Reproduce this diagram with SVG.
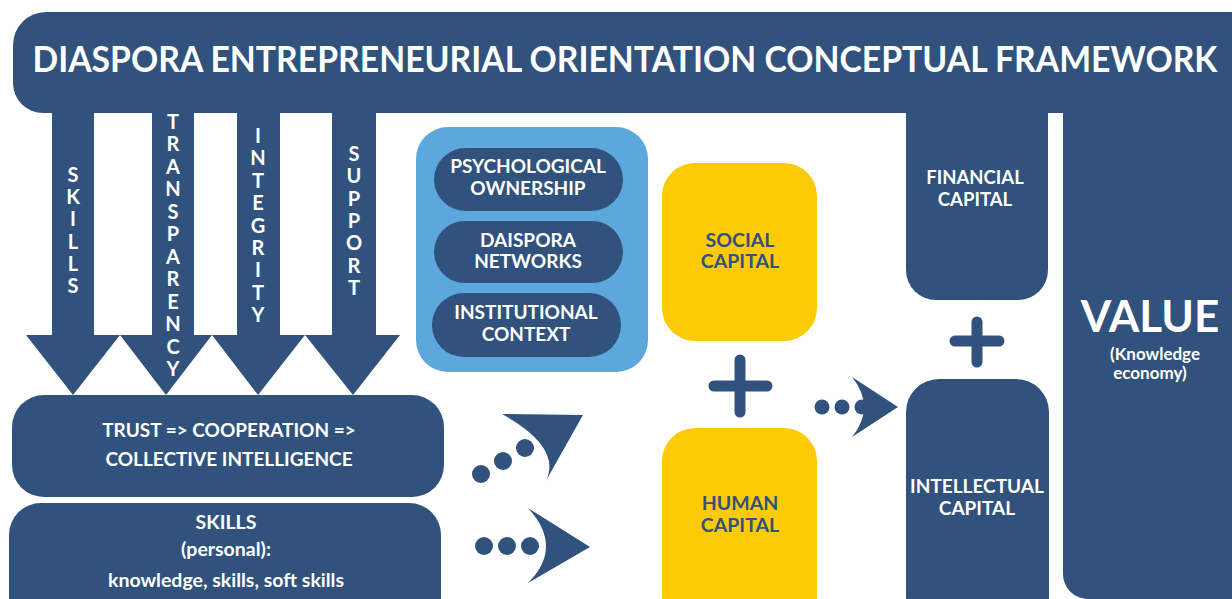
<svg xmlns="http://www.w3.org/2000/svg" width="1232" height="599" viewBox="0 0 1232 599">
<style>
.d{fill:#30527c}
.lb{fill:#5ca8dd}
.y{fill:#fccb06}
.t{font-family:Lato,"Noto Sans",sans-serif;font-weight:700;text-anchor:middle}
.w{fill:#ffffff}
.db{fill:#30527c}
.plus{stroke:#30527c;stroke-width:11;stroke-linecap:round;fill:none}
</style>
<rect width="1232" height="599" fill="#ffffff"/>
<g id="header">
<path class="d" d="M13,45 A33,33 0 0 1 46,12 L1232,12 L1232,113 L43,113 A30,30 0 0 1 13,83 Z"/>
<text class="t w" x="625" y="0" font-size="32" transform="translate(0,72) scale(1,1.15)" textLength="1185" lengthAdjust="spacingAndGlyphs">DIASPORA ENTREPRENEURIAL ORIENTATION CONCEPTUAL FRAMEWORK</text>
</g>
<g id="financial-capital">
<path class="d" d="M906,100 L1048,100 L1048,270 A30,30 0 0 1 1018,300 L936,300 A30,30 0 0 1 906,270 Z"/>
<text class="t w" x="975" y="184" font-size="18.5">FINANCIAL</text>
<text class="t w" x="975" y="206" font-size="18.5">CAPITAL</text>
</g>
<g id="value">
<path class="d" d="M1063,100 L1232,100 L1232,599 L1088,599 A25,25 0 0 1 1063,574 Z"/>
<text class="t w" x="1150" y="332" font-size="44">VALUE</text>
<text class="t w" x="1155" y="360" font-size="17">(Knowledge</text>
<text class="t w" x="1150" y="379" font-size="17">economy)</text>
</g>
<g id="arrow-skills">
<rect class="d" x="52" y="110" width="42" height="226"/>
<polygon class="d" points="26,335 120,335 73,395"/>
<text class="t w" font-size="20"><tspan x="73" y="182">S</tspan><tspan x="73" dy="22.2">K</tspan><tspan x="73" dy="22.2">I</tspan><tspan x="73" dy="22.2">L</tspan><tspan x="73" dy="22.2">L</tspan><tspan x="73" dy="22.2">S</tspan></text>
</g>
<g id="arrow-transparency">
<rect class="d" x="152" y="110" width="42" height="226"/>
<polygon class="d" points="120,335 212,335 166,395"/>
<text class="t w" font-size="20"><tspan x="173" y="129">T</tspan><tspan x="173" dy="22.45">R</tspan><tspan x="173" dy="22.45">A</tspan><tspan x="173" dy="22.45">N</tspan><tspan x="173" dy="22.45">S</tspan><tspan x="173" dy="22.45">P</tspan><tspan x="173" dy="22.45">A</tspan><tspan x="173" dy="22.45">R</tspan><tspan x="173" dy="22.45">E</tspan><tspan x="173" dy="22.45">N</tspan><tspan x="173" dy="22.45">C</tspan><tspan x="173" dy="22.45">Y</tspan></text>
</g>
<g id="arrow-integrity">
<rect class="d" x="237" y="110" width="43" height="226"/>
<polygon class="d" points="212,335 305,335 258,395"/>
<text class="t w" font-size="20"><tspan x="258" y="143">I</tspan><tspan x="258" dy="22.4">N</tspan><tspan x="258" dy="22.4">T</tspan><tspan x="258" dy="22.4">E</tspan><tspan x="258" dy="22.4">G</tspan><tspan x="258" dy="22.4">R</tspan><tspan x="258" dy="22.4">I</tspan><tspan x="258" dy="22.4">T</tspan><tspan x="258" dy="22.4">Y</tspan></text>
</g>
<g id="arrow-support">
<rect class="d" x="332" y="110" width="44" height="226"/>
<polygon class="d" points="305,335 400,335 353,395"/>
<text class="t w" font-size="20"><tspan x="354" y="161">S</tspan><tspan x="354" dy="22.3">U</tspan><tspan x="354" dy="22.3">P</tspan><tspan x="354" dy="22.3">P</tspan><tspan x="354" dy="22.3">O</tspan><tspan x="354" dy="22.3">R</tspan><tspan x="354" dy="22.3">T</tspan></text>
</g>
<g id="factors">
<rect class="lb" x="416" y="127" width="232" height="245" rx="32"/>
</g>
<g id="psychological-ownership">
<rect class="d" x="434" y="148" width="189" height="63" rx="31.5"/>
<text class="t w" x="528" y="173" font-size="19">PSYCHOLOGICAL</text>
<text class="t w" x="528" y="195" font-size="19">OWNERSHIP</text>
</g>
<g id="daispora-networks">
<rect class="d" x="434" y="221" width="189" height="62" rx="31"/>
<text class="t w" x="528" y="247" font-size="19">DAISPORA</text>
<text class="t w" x="528" y="268" font-size="19">NETWORKS</text>
</g>
<g id="institutional-context">
<rect class="d" x="432" y="293" width="189" height="64" rx="32"/>
<text class="t w" x="526" y="319" font-size="19">INSTITUTIONAL</text>
<text class="t w" x="526" y="341" font-size="19">CONTEXT</text>
</g>
<g id="social-capital">
<rect class="y" x="662" y="163" width="155" height="178" rx="33"/>
<text class="t db" x="740" y="247" font-size="19.5">SOCIAL</text>
<text class="t db" x="740" y="268" font-size="19.5">CAPITAL</text>
</g>
<g id="human-capital">
<rect class="y" x="662" y="428" width="155" height="200" rx="33"/>
<text class="t db" x="740" y="510" font-size="19.5">HUMAN</text>
<text class="t db" x="740" y="532" font-size="19.5">CAPITAL</text>
</g>
<g id="intellectual-capital">
<rect class="d" x="906" y="379" width="143" height="250" rx="33"/>
<text class="t w" x="977" y="493" font-size="19">INTELLECTUAL</text>
<text class="t w" x="977" y="515" font-size="19">CAPITAL</text>
</g>
<g id="trust">
<rect class="d" x="12" y="395" width="432" height="102" rx="32"/>
<text class="t w" x="229" y="437" font-size="19">TRUST =&gt; COOPERATION =&gt;</text>
<text class="t w" x="229" y="466" font-size="19">COLLECTIVE INTELLIGENCE</text>
</g>
<g id="skills-personal">
<rect class="d" x="9" y="503" width="432" height="130" rx="32"/>
<text class="t w" x="226" y="529" font-size="19.5">SKILLS</text>
<text class="t w" x="226" y="556" font-size="19.5">(personal):</text>
<text class="t w" x="226" y="587" font-size="19.5">knowledge, skills, soft skills</text>
</g>
<g id="connectors">
<circle class="d" cx="481" cy="474" r="9"/>
<circle class="d" cx="503" cy="461" r="9"/>
<circle class="d" cx="525" cy="448" r="9"/>
<path class="d" d="M502,414 L583,415 L543,486 Q567,450 502,414 Z"/>
<circle class="d" cx="484" cy="546" r="9"/>
<circle class="d" cx="507" cy="546" r="9"/>
<circle class="d" cx="530" cy="546" r="9"/>
<path class="d" d="M528,508 L590,547 L528,583 Q564,547 528,508 Z"/>
<circle class="d" cx="822" cy="407" r="7.5"/>
<circle class="d" cx="842" cy="407" r="7.5"/>
<circle class="d" cx="862" cy="407" r="7.5"/>
<path class="d" d="M852,377 L898,407 L852,437 Q876,407 852,377 Z"/>
<path class="plus" d="M740,360 L740,412 M714,386 L767,386"/>
<path class="plus" d="M977,322 L977,362 M955,341 L999,341"/>
</g>
</svg>
